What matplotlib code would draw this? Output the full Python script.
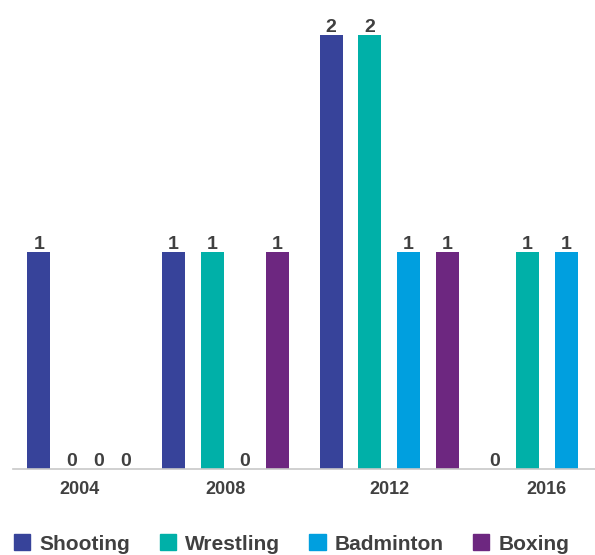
import matplotlib.pyplot as plt

# medals by year and sport
years = ['2004', '2008', '2012', '2016']
sports = ['Shooting', 'Wrestling', 'Badminton', 'Boxing']
shooting = [1, 1, 2, 0]
wrestling = [0, 1, 2, 1]
badminton = [0, 0, 1, 1]
boxing = [0, 1, 1, 0]
colors = ['#37439a', '#00b0a8', '#009fdf', '#6d2780']

TXT = '#404040'
plt.rcParams['font.family'] = ['Liberation Sans', 'DejaVu Sans']

W, H = 595, 555
fig = plt.figure(figsize=(W / 100, H / 100), dpi=100)

# x axis in pixel units; the original packs zero bars into narrower slots
base_px = 86
ax = fig.add_axes([0, base_px / H, 1, (H - base_px) / H])
ax.set_xlim(0, W)
ax.set_ylim(0, (H - base_px) / 217.0)

slot_full = 38.6   # slot of a bar with a value
slot_zero = 27.0   # slot of a zero bar
group_gap = 15.0
start = 19.5
bw = 23.0

series = [shooting, wrestling, badminton, boxing]
centers = [[] for _ in sports]
group_mid = []
cur = start
for g in range(len(years)):
    g0 = cur
    for i in range(len(sports)):
        w = slot_full if series[i][g] else slot_zero
        centers[i].append(cur + w / 2)
        cur += w
    group_mid.append((g0 + cur) / 2)
    cur += group_gap

for i, name in enumerate(sports):
    bars = ax.bar(centers[i], series[i], bw, color=colors[i], label=name, zorder=2)
    for b, v in zip(bars, series[i]):
        ax.annotate(str(v), (b.get_x() + b.get_width() / 2, v),
                    xytext=(0, 2.5), textcoords='offset points',
                    ha='center', va='baseline', fontsize=14,
                    fontweight='bold', color=TXT, clip_on=False)

ax.set_xticks(group_mid)
ax.set_xticklabels(years, fontsize=13, fontweight='bold', color=TXT)
ax.tick_params(axis='x', length=0, pad=9)
ax.set_yticks([])
for s in ['top', 'right', 'left']:
    ax.spines[s].set_visible(False)
ax.spines['bottom'].set_color('#c8c8c8')
ax.spines['bottom'].set_linewidth(1.2)
ax.spines['bottom'].set_bounds(12.7, W)

handles = [plt.Rectangle((0, 0), 1, 1, color=c) for c in colors]
fig.legend(handles, sports, loc='center left', bbox_to_anchor=(14 / W, 11 / H),
           ncol=4, frameon=False, borderpad=0, borderaxespad=0,
           handlelength=0.78, handleheight=0.78, handletextpad=0.45,
           columnspacing=1.4, prop={'size': 15, 'weight': 'bold'},
           labelcolor=TXT)

fig.savefig('out.png', dpi=100)
